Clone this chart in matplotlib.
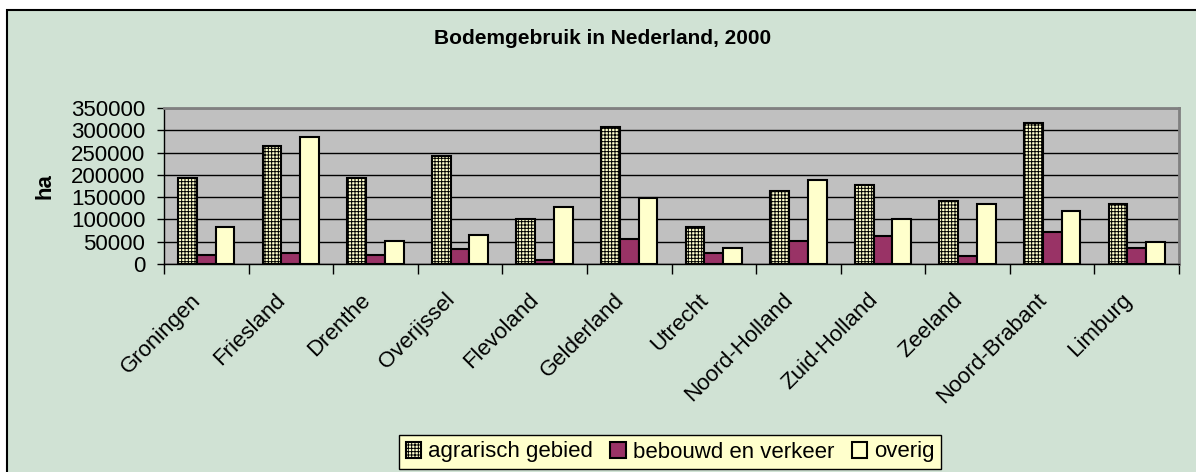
import matplotlib
matplotlib.use("Agg")
import matplotlib.pyplot as plt
import matplotlib.patches as mpatches
from matplotlib.transforms import ScaledTranslation
import numpy as np

plt.rcParams["font.family"] = ["Liberation Sans", "DejaVu Sans"]
plt.rcParams["hatch.linewidth"] = 0.7

# data (ha)
provincies = ["Groningen", "Friesland", "Drenthe", "Overijssel", "Flevoland",
              "Gelderland", "Utrecht", "Noord-Holland", "Zuid-Holland", "Zeeland",
              "Noord-Brabant", "Limburg"]
agrarisch = [192000, 264000, 193000, 243000, 102000, 308000, 84000, 164000,
             177000, 141000, 316000, 134000]
bebouwd = [21000, 25000, 20000, 34000, 9000, 57000, 25000, 52000, 63000,
           17000, 72000, 35000]
overig = [84000, 285000, 52000, 65000, 128000, 148000, 35000, 189000, 102000,
          134000, 119000, 50000]
reeksen = ["agrarisch gebied", "bebouwd en verkeer", "overig"]

groen = "#D0E2D4"
fig = plt.figure(figsize=(11.96, 4.72), dpi=100)
fig.patch.set_facecolor("white")

# chart area with black border on top/left
fig.patches.append(mpatches.Rectangle((7 / 1196, -0.1), 1.2, 0.1 + 462 / 472,
                                      transform=fig.transFigure, facecolor=groen,
                                      edgecolor="black", linewidth=1.5, zorder=-10))

ax = fig.add_axes([164 / 1196, 208 / 472, 1015 / 1196, 156 / 472])
ax.set_facecolor("#C0C0C0")

x = np.arange(len(provincies))
w = 0.222
ax.bar(x - w, agrarisch, w, facecolor="#FFFFCC", edgecolor="black",
       linewidth=1.5, hatch="+++++", label=reeksen[0], zorder=3)
ax.bar(x, bebouwd, w, facecolor="#993366", edgecolor="black",
       linewidth=1.5, label=reeksen[1], zorder=3)
ax.bar(x + w, overig, w, facecolor="#FFFFCC", edgecolor="black",
       linewidth=1.5, label=reeksen[2], zorder=3)

ax.set_xlim(-0.5, len(provincies) - 0.5)
ax.set_ylim(0, 350000)
ax.set_yticks(range(0, 350001, 50000))
ax.yaxis.grid(True, color="black", linewidth=1)
ax.set_axisbelow(True)

ax.set_xticks(np.arange(-0.5, len(provincies), 1))
ax.set_xticklabels([])
ax.set_xticks(x, minor=True)
ax.set_xticklabels(provincies, minor=True, rotation=45, ha="right", va="top",
                   rotation_mode="anchor", fontsize=16)
ax.tick_params(axis="x", which="major", direction="out", length=7, width=1)
ax.tick_params(axis="x", which="minor", length=0, pad=14)
ax.tick_params(axis="y", direction="out", length=5, width=1, labelsize=16, pad=8.5)
verschuif = ScaledTranslation(-0.16, -0.06, fig.dpi_scale_trans)
for lbl in ax.get_xticklabels(minor=True):
    lbl.set_transform(lbl.get_transform() + verschuif)

for s in ["left", "bottom"]:
    ax.spines[s].set_color("black")
    ax.spines[s].set_linewidth(1)
for s in ["top", "right"]:
    ax.spines[s].set_color("#808080")
    ax.spines[s].set_linewidth(2)

ax.set_ylabel("ha", fontsize=16, fontweight="bold")
ax.yaxis.set_label_coords((56 - 164) / 1015, 0.5)
fig.text(603 / 1196, 1 - 39 / 472, "Bodemgebruik in Nederland, 2000",
         ha="center", va="center", fontsize=15, fontweight="bold")

leg = fig.legend(loc="center", bbox_to_anchor=(670 / 1196, 1 - 452 / 472), ncol=3,
                 fontsize=16, frameon=True, fancybox=False, shadow=False,
                 handlelength=0.7, handleheight=0.7, handletextpad=0.3,
                 columnspacing=0.8, borderpad=0.3)
leg.get_frame().set_facecolor("#FFFFCC")
leg.get_frame().set_edgecolor("black")
leg.get_frame().set_linewidth(1)
leg.get_frame().set_alpha(1)

fig.savefig("out.png", dpi=100, facecolor=fig.get_facecolor())
